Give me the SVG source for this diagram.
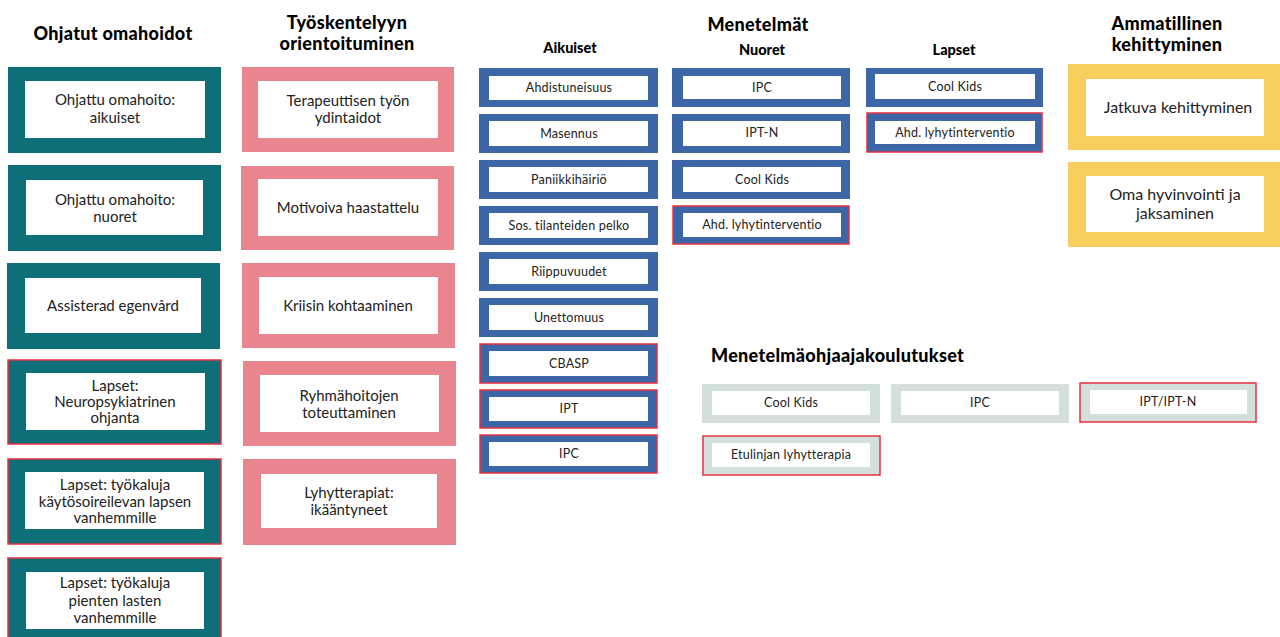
<svg xmlns="http://www.w3.org/2000/svg" width="1280" height="637" viewBox="0 0 1280 637">
<style>
.h{font-family:Lato,"Noto Sans","Liberation Sans",sans-serif;font-weight:900;fill:#000;text-anchor:middle}
.h1{font-size:18px;letter-spacing:0.3px}
.h2{font-size:14.5px}
.t{font-family:Lato,"Noto Sans","Liberation Sans",sans-serif;fill:#222;text-anchor:middle}
.tl{font-size:15px}
.ts{font-size:12.5px;letter-spacing:0.2px}
.ty{font-size:16px}
.in{fill:#fff}
.teal{fill:#0f6f79}
.pink{fill:#e8858f}
.blue{fill:#3c66a6}
.yel{fill:#f8cf5e}
.grey{fill:#d2e0d9}
.red{stroke:#e8303f;stroke-width:1.5}
</style>
<rect width="1280" height="637" fill="#fff"/>
<g id="headers">
<text class="h h1" x="113" y="40">Ohjatut omahoidot</text>
<text class="h h1" x="347" y="29">Työskentelyyn</text>
<text class="h h1" x="347" y="50">orientoituminen</text>
<text class="h h1" x="758" y="31">Menetelmät</text>
<text class="h h2" x="570" y="53">Aikuiset</text>
<text class="h h2" x="762" y="55">Nuoret</text>
<text class="h h2" x="954" y="55">Lapset</text>
<text class="h h1" x="1167" y="30">Ammatillinen</text>
<text class="h h1" x="1167" y="51">kehittyminen</text>
<text class="h h1" x="711" y="362" style="text-anchor:start">Menetelmäohjaajakoulutukset</text>
</g>
<g id="connectors"/>
<!-- Column 1 -->
<g id="c1n1"><rect class="teal" x="8" y="67" width="213" height="86"/><rect class="in" x="25" y="81" width="180" height="57"/><text class="t tl" x="115" y="105">Ohjattu omahoito:</text><text class="t tl" x="115" y="123">aikuiset</text></g>
<g id="c1n2"><rect class="teal" x="8" y="165" width="213" height="86"/><rect class="in" x="26" y="180" width="177" height="55"/><text class="t tl" x="115" y="205">Ohjattu omahoito:</text><text class="t tl" x="115" y="222">nuoret</text></g>
<g id="c1n3"><rect class="teal" x="7" y="263" width="213" height="86"/><rect class="in" x="25" y="278" width="176" height="55"/><text class="t tl" x="113" y="311">Assisterad egenvård</text></g>
<g id="c1n4"><rect class="teal red" x="8" y="360" width="213" height="84"/><rect class="in" x="26" y="373" width="179" height="57"/><text class="t tl" x="115" y="391">Lapset:</text><text class="t tl" x="115" y="407">Neuropsykiatrinen</text><text class="t tl" x="115" y="423">ohjanta</text></g>
<g id="c1n5"><rect class="teal red" x="8" y="459" width="213" height="85"/><rect class="in" x="25" y="472" width="179" height="57"/><text class="t tl" x="115" y="490">Lapset: työkaluja</text><text class="t tl" x="115" y="507">käytösoireilevan lapsen</text><text class="t tl" x="115" y="523">vanhemmille</text></g>
<g id="c1n6"><rect class="teal red" x="8" y="558" width="213" height="90"/><rect class="in" x="26" y="572" width="178" height="57"/><text class="t tl" x="115" y="588">Lapset: työkaluja</text><text class="t tl" x="115" y="606">pienten lasten</text><text class="t tl" x="115" y="623">vanhemmille</text></g>
<!-- Column 2 -->
<g id="c2n1"><rect class="pink" x="242" y="67" width="212" height="85"/><rect class="in" x="258" y="81" width="180" height="57"/><text class="t tl" x="348" y="106">Terapeuttisen työn</text><text class="t tl" x="348" y="123">ydintaidot</text></g>
<g id="c2n2"><rect class="pink" x="241" y="166" width="213" height="84"/><rect class="in" x="258" y="179" width="180" height="57"/><text class="t tl" x="348" y="213">Motivoiva haastattelu</text></g>
<g id="c2n3"><rect class="pink" x="242" y="263" width="213" height="85"/><rect class="in" x="259" y="277" width="179" height="57"/><text class="t tl" x="348" y="311">Kriisin kohtaaminen</text></g>
<g id="c2n4"><rect class="pink" x="243" y="361" width="213" height="85"/><rect class="in" x="260" y="375" width="179" height="57"/><text class="t tl" x="349" y="401">Ryhmähoitojen</text><text class="t tl" x="349" y="418">toteuttaminen</text></g>
<g id="c2n5"><rect class="pink" x="243" y="459" width="213" height="86"/><rect class="in" x="261" y="474" width="176" height="54"/><text class="t tl" x="349" y="498">Lyhytterapiat:</text><text class="t tl" x="349" y="515">ikääntyneet</text></g>
<!-- Aikuiset -->
<g id="a1"><rect class="blue" x="479" y="68" width="179" height="39"/><rect class="in" x="489" y="76" width="159" height="24"/><text class="t ts" x="569" y="92">Ahdistuneisuus</text></g>
<g id="a2"><rect class="blue" x="479" y="114" width="179" height="39"/><rect class="in" x="489" y="121" width="159" height="25"/><text class="t ts" x="569" y="138">Masennus</text></g>
<g id="a3"><rect class="blue" x="479" y="160" width="179" height="39"/><rect class="in" x="489" y="167" width="159" height="25"/><text class="t ts" x="569" y="184">Paniikkihäiriö</text></g>
<g id="a4"><rect class="blue" x="479" y="206" width="179" height="39"/><rect class="in" x="489" y="213" width="159" height="25"/><text class="t ts" x="569" y="230">Sos. tilanteiden pelko</text></g>
<g id="a5"><rect class="blue" x="479" y="252" width="179" height="39"/><rect class="in" x="489" y="259" width="159" height="25"/><text class="t ts" x="569" y="276">Riippuvuudet</text></g>
<g id="a6"><rect class="blue" x="479" y="298" width="179" height="39"/><rect class="in" x="489" y="305" width="159" height="25"/><text class="t ts" x="569" y="322">Unettomuus</text></g>
<g id="a7"><rect class="blue red" x="480" y="344" width="177" height="39"/><rect class="in" x="489" y="351" width="159" height="25"/><text class="t ts" x="569" y="368">CBASP</text></g>
<g id="a8"><rect class="blue red" x="480" y="390" width="177" height="38"/><rect class="in" x="489" y="397" width="159" height="24"/><text class="t ts" x="569" y="413">IPT</text></g>
<g id="a9"><rect class="blue red" x="480" y="435" width="177" height="38"/><rect class="in" x="489" y="442" width="159" height="24"/><text class="t ts" x="569" y="458">IPC</text></g>
<!-- Nuoret -->
<g id="n1"><rect class="blue" x="672" y="68" width="178" height="39"/><rect class="in" x="683" y="76" width="158" height="23"/><text class="t ts" x="762" y="92">IPC</text></g>
<g id="n2"><rect class="blue" x="672" y="114" width="178" height="39"/><rect class="in" x="683" y="121" width="158" height="25"/><text class="t ts" x="762" y="137">IPT-N</text></g>
<g id="n3"><rect class="blue" x="672" y="160" width="178" height="39"/><rect class="in" x="683" y="167" width="158" height="25"/><text class="t ts" x="762" y="184">Cool Kids</text></g>
<g id="n4"><rect class="blue red" x="673" y="206" width="176" height="38"/><rect class="in" x="683" y="213" width="158" height="24"/><text class="t ts" x="762" y="229">Ahd. lyhytinterventio</text></g>
<!-- Lapset -->
<g id="l1"><rect class="blue" x="866" y="68" width="177" height="39"/><rect class="in" x="875" y="74" width="160" height="25"/><text class="t ts" x="955" y="91">Cool Kids</text></g>
<g id="l2"><rect class="blue red" x="867" y="113" width="175" height="39"/><rect class="in" x="875" y="121" width="160" height="23"/><text class="t ts" x="955" y="137">Ahd. lyhytinterventio</text></g>
<!-- Ammatillinen -->
<g id="y1"><rect class="yel" x="1068" y="64" width="212" height="86"/><rect class="in" x="1086" y="79" width="178" height="57"/><text class="t ty" x="1178" y="113">Jatkuva kehittyminen</text></g>
<g id="y2"><rect class="yel" x="1068" y="162" width="212" height="85"/><rect class="in" x="1086" y="176" width="178" height="56"/><text class="t ty" x="1175" y="200">Oma hyvinvointi ja</text><text class="t ty" x="1175" y="219">jaksaminen</text></g>
<!-- Menetelmäohjaajakoulutukset -->
<g id="g1"><rect class="grey" x="702" y="384" width="178" height="39"/><rect class="in" x="712" y="391" width="158" height="24"/><text class="t ts" x="791" y="407">Cool Kids</text></g>
<g id="g2"><rect class="grey" x="891" y="384" width="178" height="39"/><rect class="in" x="901" y="391" width="158" height="24"/><text class="t ts" x="980" y="407">IPC</text></g>
<g id="g3"><rect class="grey red" x="1080" y="383" width="176" height="39"/><rect class="in" x="1090" y="390" width="157" height="24"/><text class="t ts" x="1168" y="406">IPT/IPT-N</text></g>
<g id="g4"><rect class="grey red" x="703" y="436" width="177" height="39"/><rect class="in" x="712" y="443" width="158" height="24"/><text class="t ts" x="791" y="459">Etulinjan lyhytterapia</text></g>
</svg>
